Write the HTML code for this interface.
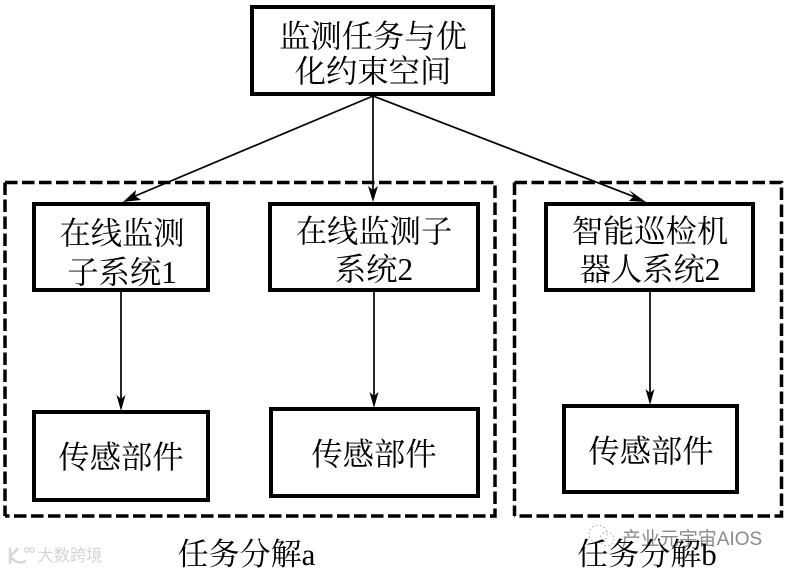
<!DOCTYPE html>
<html>
<head>
<meta charset="utf-8">
<style>
html,body{margin:0;padding:0;background:#fff;width:786px;height:572px;overflow:hidden}
svg{display:block}
text{font-family:"Liberation Serif","Noto Serif CJK SC",serif;fill:#000;text-anchor:middle}
.t{font-size:31.3px}
.b{fill:#fff;stroke:#000;stroke-width:4}
.d{fill:none;stroke:#000;stroke-width:3.5;stroke-dasharray:12.500 4.500}
.l{stroke:#000;stroke-width:1.700;fill:none}
.h{fill:#000;stroke:none}
</style>
</head>
<body>
<svg width="786" height="572" viewBox="0 0 786 572" xmlns="http://www.w3.org/2000/svg">
<path class="d" d="M5 182.500 H495 V516 H5"/>
<path class="d" d="M5 182.500 V516"/>
<path class="d" d="M514.500 182.500 H781.500 V516 H514.500"/>
<path class="d" d="M514.500 182.500 V516"/>

<line class="l" x1="373" y1="96" x2="128" y2="199"/>
<line class="l" x1="373" y1="96" x2="373" y2="196"/>
<line class="l" x1="373" y1="96" x2="640" y2="199"/>
<line class="l" x1="121" y1="291" x2="121" y2="404"/>
<line class="l" x1="374" y1="291" x2="374" y2="401"/>
<line class="l" x1="650" y1="291" x2="650" y2="398"/>

<path class="h" d="M123 202 L136 190 L135 196 L141 200 Z"/>
<path class="h" d="M373 202 L368 186 L373 190 L378 186 Z"/>
<path class="h" d="M646 202 L629 190 L634 196 L629 201 Z"/>
<path class="h" d="M121 411 L116.500 395 L121 399 L125.500 395 Z"/>
<path class="h" d="M374 408 L369.500 392 L374 396 L378.500 392 Z"/>
<path class="h" d="M650 405 L645.500 389 L650 393 L654.500 389 Z"/>

<rect class="b" x="252" y="7" width="241" height="87"/>
<rect class="b" x="34" y="204" width="174" height="86"/>
<rect class="b" x="270" y="204" width="208" height="86"/>
<rect class="b" x="546" y="204" width="207" height="86"/>
<rect class="b" x="34" y="412" width="174" height="88"/>
<rect class="b" x="271" y="409" width="207" height="87"/>
<rect class="b" x="564" y="406" width="173" height="86"/>

<text class="t" x="373" y="47">监测任务与优</text>
<text class="t" x="373" y="82">化约束空间</text>
<text class="t" x="122" y="244">在线监测</text>
<text class="t" x="122" y="283">子系统1</text>
<text class="t" x="374" y="242">在线监测子</text>
<text class="t" x="374" y="280">系统2</text>
<text class="t" x="650" y="242">智能巡检机</text>
<text class="t" x="650" y="280">器人系统2</text>
<text class="t" x="121" y="468">传感部件</text>
<text class="t" x="374" y="465">传感部件</text>
<text class="t" x="651" y="462">传感部件</text>

<text x="692" y="545" style="font-family:'Liberation Sans','Noto Sans CJK SC',sans-serif;font-size:19px;fill:#8a8a8a">产业元宇宙AIOS</text>
<text x="70" y="561" style="font-family:'Liberation Sans','Noto Sans CJK SC',sans-serif;font-size:16.300px;fill:#d4d4d4">大数跨境</text>
<path d="M10 548 V564 M10 556 C14 553 16 551 18 548 M10 556 C14 562 20 564 26 561" fill="none" stroke="#d8d8d8" stroke-width="2.500"/>
<circle cx="27" cy="550" r="2.200" fill="none" stroke="#d8d8d8" stroke-width="1.300"/>
<circle cx="32" cy="550" r="2.200" fill="none" stroke="#d8d8d8" stroke-width="1.300"/>
<circle cx="598" cy="534" r="9" fill="none" stroke="#aaa" stroke-width="1" stroke-dasharray="1.500 2.500"/>
<circle cx="607" cy="539" r="7" fill="none" stroke="#aaa" stroke-width="1" stroke-dasharray="1.500 2.500"/>

<text x="246.500" y="565" style="font-size:31px">任务分解a</text>
<text x="647" y="565" style="font-size:31px">任务分解b</text>
</svg>
</body>
</html>
